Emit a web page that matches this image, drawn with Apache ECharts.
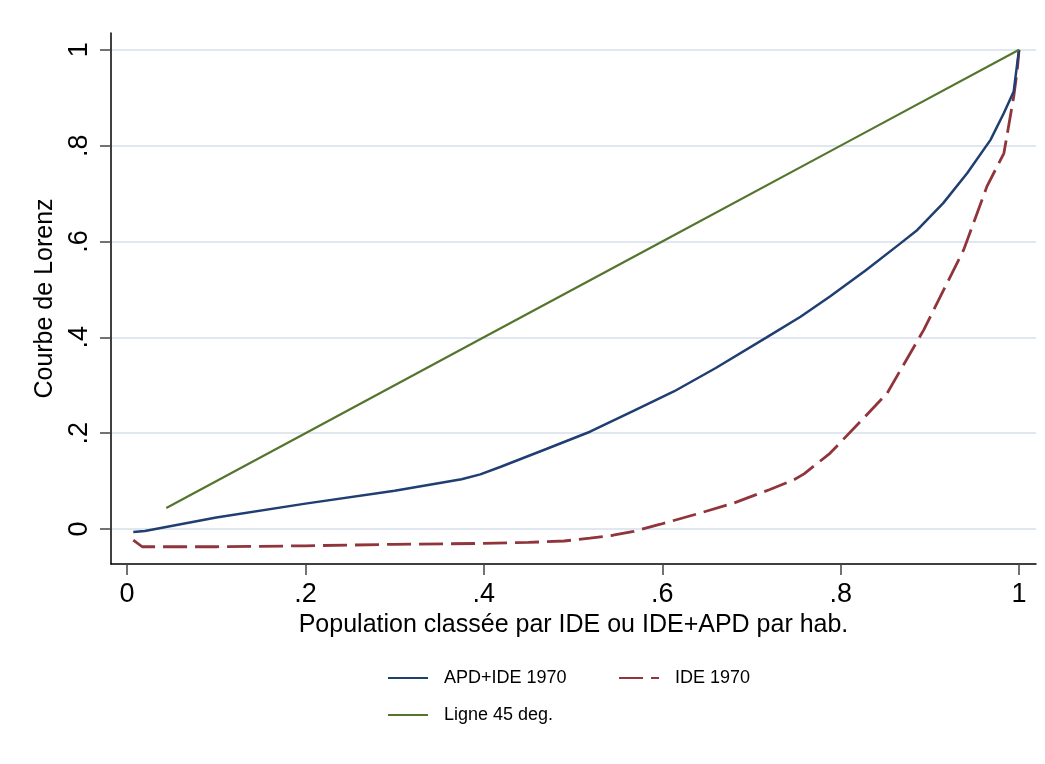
<!DOCTYPE html>
<html>
<head>
<meta charset="utf-8">
<script src="https://cdn.jsdelivr.net/npm/echarts@6/dist/echarts.min.js"></script>
<style>
html,body{margin:0;padding:0;background:#fff;}
#chart{width:1045px;height:764px;}
</style>
</head>
<body>
<div id="chart"></div>
<script>
// ---- data ----
var xTicks = [0, 0.2, 0.4, 0.6, 0.8, 1];
var yTicks = [0, 0.2, 0.4, 0.6, 0.8, 1];

var blueName = 'APD+IDE 1970';
var blueX = [0.007, 0.02, 0.1, 0.2, 0.3, 0.375, 0.396, 0.419, 0.47, 0.519, 0.566, 0.613, 0.66, 0.717, 0.755, 0.788, 0.829, 0.867, 0.886, 0.915, 0.942, 0.968, 0.983, 0.994, 0.998, 1];
var blueY = [-0.006, -0.004, 0.024, 0.053, 0.08, 0.104, 0.114, 0.13, 0.167, 0.203, 0.245, 0.287, 0.336, 0.40, 0.443, 0.485, 0.541, 0.596, 0.624, 0.68, 0.743, 0.812, 0.868, 0.913, 0.972, 1];

var redName = 'IDE 1970';
var redX = [0.007, 0.017, 0.1, 0.2, 0.3, 0.4, 0.45, 0.49, 0.519, 0.545, 0.568, 0.598, 0.64, 0.68, 0.72, 0.747, 0.759, 0.788, 0.82, 0.852, 0.893, 0.938, 0.964, 0.983, 0.994, 0.998, 1];
var redY = [-0.023, -0.037, -0.037, -0.035, -0.032, -0.030, -0.028, -0.025, -0.019, -0.013, -0.005, 0.010, 0.032, 0.054, 0.082, 0.102, 0.115, 0.158, 0.22, 0.283, 0.415, 0.583, 0.715, 0.784, 0.902, 0.958, 1];

var greenName = 'Ligne 45 deg.';
var greenX = [0.044, 0.2, 0.4, 0.6, 0.8, 1];
var greenY = [0.044, 0.2, 0.4, 0.6, 0.8, 1];

function pairs(xs, ys) { return xs.map(function (x, i) { return [x, ys[i]]; }); }
function fmt(v) {
  if (Math.abs(v) < 1e-9) return '0';
  if (Math.abs(v - 1) < 1e-9) return '1';
  return String(Math.round(v * 10) / 10).replace(/^0/, '');
}

var FONT = "'Liberation Sans', Arial, Helvetica, sans-serif";
var chart = echarts.init(document.getElementById('chart'), null, {renderer: 'canvas'});

var legendBase = {
  orient: 'horizontal', padding: 0, itemWidth: 40, itemHeight: 14, selectedMode: false,
  itemStyle: {opacity: 0},
  textStyle: {fontFamily: FONT, fontSize: 18, color: '#000', padding: [0, 0, 0, 11]}
};

chart.setOption({
  backgroundColor: '#fff',
  animation: false,
  textStyle: {fontFamily: FONT},
  grid: {left: 111, right: 9, top: 33, bottom: 200, containLabel: false, outerBoundsMode: 'none'},
  xAxis: {
    type: 'value', min: -0.018, max: 1.019,
    name: 'Population classée par IDE ou IDE+APD par hab.',
    nameLocation: 'middle', nameGap: 38,
    nameTextStyle: {fontFamily: FONT, fontSize: 25, color: '#000'},
    axisLine: {show: true, onZero: false, lineStyle: {color: '#000', width: 1.5}},
    axisTick: {show: true, length: 11, customValues: xTicks, lineStyle: {color: '#444', width: 1.5}},
    axisLabel: {show: true, customValues: xTicks, margin: 17, fontFamily: FONT, fontSize: 27, color: '#000', formatter: fmt},
    splitLine: {show: false}
  },
  yAxis: {
    type: 'value', min: -0.073, max: 1.035,
    name: 'Courbe de Lorenz',
    nameLocation: 'middle', nameGap: 43,
    nameTextStyle: {fontFamily: FONT, fontSize: 25, color: '#000'},
    axisLine: {show: true, onZero: false, lineStyle: {color: '#000', width: 1.5}},
    axisTick: {show: true, length: 11, customValues: yTicks, lineStyle: {color: '#444', width: 1.5}},
    axisLabel: {show: true, customValues: yTicks, rotate: 90, margin: 18, fontFamily: FONT, fontSize: 27, color: '#000', formatter: fmt},
    splitLine: {show: true, lineStyle: {color: '#e1e7f0', width: 2}}
  },
  legend: [
    Object.assign({}, legendBase, {data: [blueName], left: 387, top: 669}),
    Object.assign({}, legendBase, {data: [redName], left: 618, top: 669}),
    Object.assign({}, legendBase, {data: [greenName], left: 387, top: 706})
  ],
  series: [
    {name: blueName, type: 'line', data: pairs(blueX, blueY), symbol: 'none', smooth: false,
      lineStyle: {color: '#1f3e72', width: 2.5}, itemStyle: {color: '#1f3e72'}, z: 3},
    {name: redName, type: 'line', data: pairs(redX, redY), symbol: 'none', smooth: false,
      lineStyle: {color: '#90353b', width: 2.8, type: [24, 8]}, itemStyle: {color: '#90353b'}, z: 2},
    {name: greenName, type: 'line', data: pairs(greenX, greenY), symbol: 'none', smooth: false,
      lineStyle: {color: '#55752f', width: 2.2}, itemStyle: {color: '#55752f'}, z: 4}
  ]
});
</script>
</body>
</html>
